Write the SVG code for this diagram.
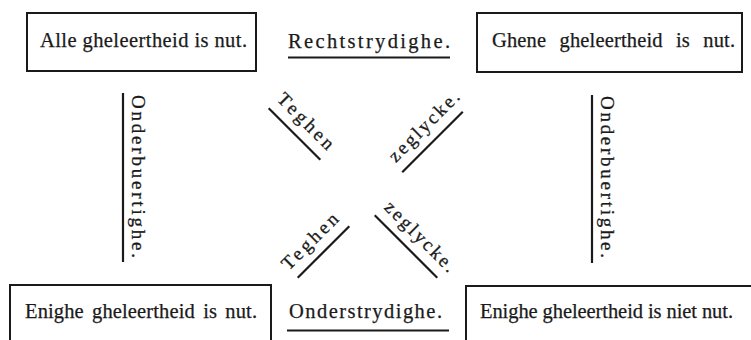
<svg xmlns="http://www.w3.org/2000/svg" width="751" height="340" viewBox="0 0 751 340">
<style>
.box{fill:#fff;stroke:#1a1a1a;stroke-width:2}
.t{font-family:"Liberation Serif","Times New Roman",serif;font-size:20.5px;fill:#1a1a1a;stroke:#1a1a1a;stroke-width:0.25}
.s{font-family:"Liberation Serif","Times New Roman",serif;font-size:19px;fill:#1a1a1a;stroke:#1a1a1a;stroke-width:0.3}
.u{stroke:#1a1a1a;stroke-width:2.2;fill:none}
</style>
<rect width="751" height="340" fill="#fff"/>
<g id="node-alle">
<rect class="box" x="27" y="13" width="229" height="58"/>
<text class="t" x="40" y="47" textLength="207" lengthAdjust="spacing">Alle gheleertheid is nut.</text>
</g>
<g id="node-ghene">
<rect class="box" x="477" y="13" width="265" height="59"/>
<text class="t" x="492" y="47" textLength="243" lengthAdjust="spacing" word-spacing="8">Ghene gheleertheid is nut.</text>
</g>
<g id="node-enighe">
<rect class="box" x="10" y="285" width="261" height="70"/>
<text class="t" x="25" y="318" textLength="232" lengthAdjust="spacing" word-spacing="3">Enighe gheleertheid is nut.</text>
</g>
<g id="node-enighe-niet">
<rect class="box" x="466" y="286" width="300" height="70"/>
<text class="t" x="480" y="318" textLength="253" lengthAdjust="spacing">Enighe gheleertheid is niet nut.</text>
</g>
<g id="connectors">
<g id="rechtstrydighe">
<text class="t" x="288" y="48" textLength="162" lengthAdjust="spacing" font-size="21">Rechtstrydighe.</text>
<line class="u" x1="288" y1="57.5" x2="450" y2="57.5"/>
</g>
<g id="onderstrydighe">
<text class="t" x="289" y="318" textLength="153" lengthAdjust="spacing" font-size="21">Onderstrydighe.</text>
<line class="u" x1="287" y1="330.5" x2="449" y2="330.5"/>
</g>
<g id="onderbuertighe-left">
<text class="s" transform="translate(132,95) rotate(90)" x="0" y="0" textLength="163" lengthAdjust="spacing">Onderbuertighe.</text>
<line class="u" x1="123" y1="93" x2="123" y2="262"/>
</g>
<g id="onderbuertighe-right">
<text class="s" transform="translate(601,96) rotate(90)" x="0" y="0" textLength="162" lengthAdjust="spacing">Onderbuertighe.</text>
<line class="u" x1="592" y1="95" x2="592" y2="263"/>
</g>
<g id="teghen-top" transform="translate(294.5,134) rotate(45)">
<text class="s" x="-1" y="-11" text-anchor="middle" textLength="72" lengthAdjust="spacing">Teghen</text>
<line class="u" x1="-36.5" y1="0" x2="36.5" y2="0"/>
</g>
<g id="zeglycke-top" transform="translate(432.5,142) rotate(-45)">
<text class="s" x="5" y="-11" text-anchor="middle" textLength="92" lengthAdjust="spacing">zeglycke.</text>
<line class="u" x1="-42.8" y1="0" x2="42.8" y2="0"/>
</g>
<g id="teghen-bottom" transform="translate(323.5,252) rotate(-45)">
<text class="s" x="-2" y="-11" text-anchor="middle" textLength="72" lengthAdjust="spacing">Teghen</text>
<line class="u" x1="-36.5" y1="0" x2="36.5" y2="0"/>
</g>
<g id="zeglycke-bottom" transform="translate(406,246.5) rotate(45)">
<text class="s" x="3" y="-11" text-anchor="middle" textLength="92" lengthAdjust="spacing">zeglycke.</text>
<line class="u" x1="-44.2" y1="0" x2="44.2" y2="0"/>
</g>
</g>
</svg>
